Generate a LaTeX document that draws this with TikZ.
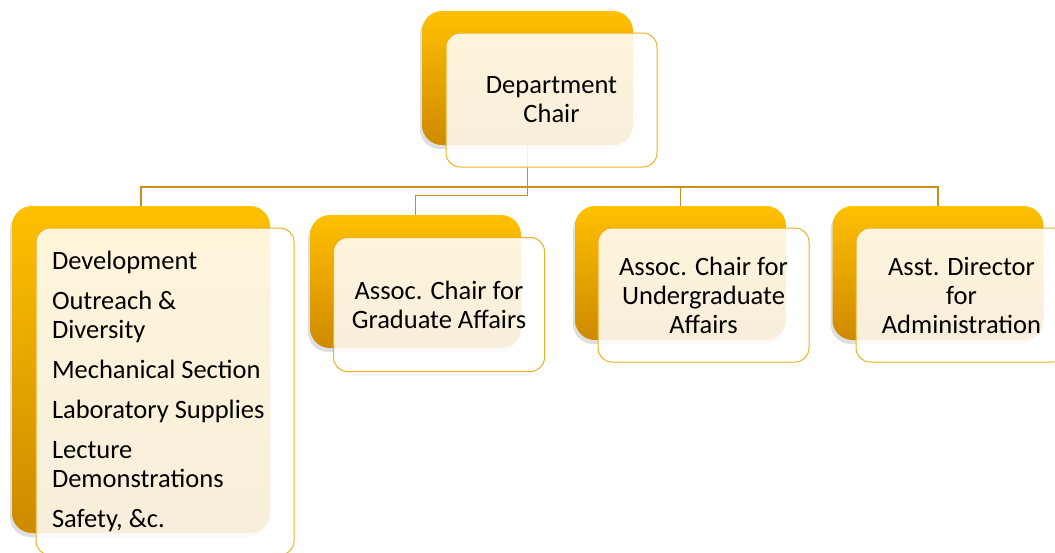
\documentclass[tikz,border=0pt]{standalone}
\usepackage{fontspec}
\setmainfont{Carlito}
\usetikzlibrary{positioning,shadows,backgrounds}
\definecolor{gold}{RGB}{255,192,0}
\definecolor{darkgold}{RGB}{206,138,0}
\definecolor{linkgold}{RGB}{196,146,24}
\definecolor{rimgold}{RGB}{238,176,30}

\begin{document}
\begin{tikzpicture}[x=1pt,y=-1pt]
    \tikzstyle{back}=[rounded corners=20pt, minimum width=211pt, minimum height=134pt, top color=gold, bottom color=darkgold, drop shadow={shadow xshift=-2pt, shadow yshift=-4pt, opacity=0.25}]
    \tikzstyle{front}=[draw=rimgold, line width=1pt, rounded corners=14pt, fill=white, fill opacity=0.86, text opacity=1, minimum width=211pt, minimum height=134pt, align=center, font=\fontsize{26.5}{29}\selectfont]
    \tikzstyle{link}=[draw=linkgold, line width=1.3pt]

    \useasboundingbox (0,0) rectangle (1055,552);

    \node[back] (chair) at (527.5,78) {};
    \node[front] (chairF) at (551.5,100) {Department\\Chair};

    \node[back, minimum width=258pt, minimum height=327pt] (left) at (141,369.5) {};
    \node[front, minimum width=258pt, minimum height=327pt, text width=226pt, inner xsep=16pt, align=flush left] (leftF) at (165,391.5) {Development\\[11pt]
        Outreach \&\\Diversity\\[11pt]
        Mechanical Section\\[11pt]
        Laboratory Supplies\\[11pt]
        Lecture\\Demonstrations\\[11pt]
        Safety, \&c.};

    \node[back, minimum height=133pt] (grad) at (415.5,281.5) {};
    \node[front] (gradF) at (439,304.5) {Assoc. Chair for\\Graduate Affairs};

    \node[back] (ug) at (680.5,273) {};
    \node[front] (ugF) at (703.5,295) {Assoc. Chair for\\Undergraduate\\Affairs};

    \node[back] (admin) at (938,273) {};
    \node[front] (adminF) at (961.5,295) {Asst. Director\\for\\Administration};

    % connectors
    \begin{pgfonlayer}{background}
        \coordinate (bus) at (528,187);
        \draw[link] (chair.south) -- ++(0,50) -| (grad.north);
        \draw[link] (left.north) |- (bus) -| (admin.north);
        \draw[link] (ug.north) -- (ug.north |- bus);
    \end{pgfonlayer}

\end{tikzpicture}
\end{document}
